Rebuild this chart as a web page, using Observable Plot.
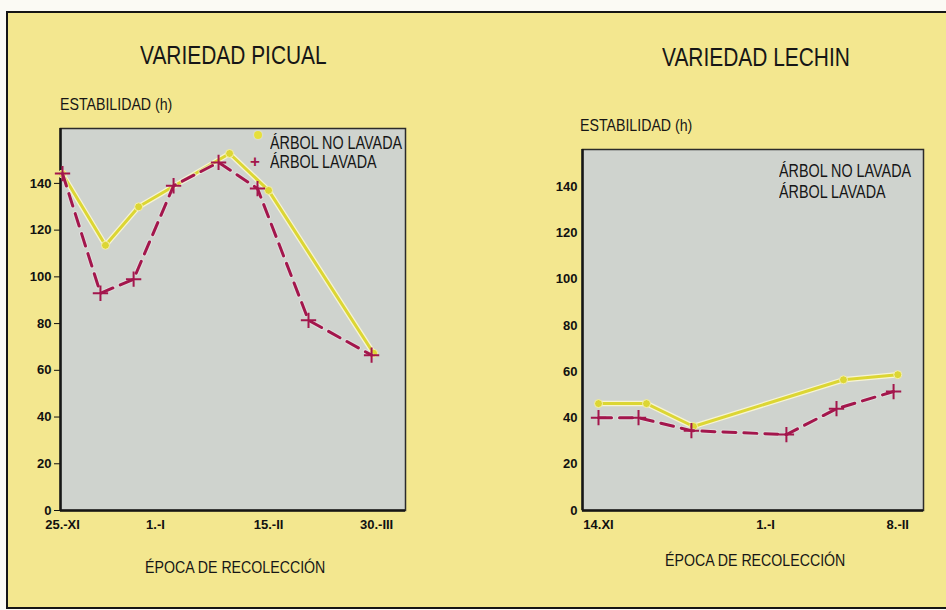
<!DOCTYPE html>
<html><head><meta charset="utf-8">
<script src="https://cdn.jsdelivr.net/npm/d3@7"></script>
<script src="https://cdn.jsdelivr.net/npm/@observablehq/plot@0.6"></script>
<style>
body{margin:0;background:#fbfaf4;}
#wrap{position:relative;width:946px;height:610px;overflow:hidden;background:#fbfaf4;}
#bg{position:absolute;left:6px;top:11px;width:960px;height:594px;background:#f3e78f;border-left:2.5px solid #151515;border-top:2.5px solid #151515;border-bottom:2.5px solid #151515;}
.t{position:absolute;font-family:"Liberation Sans",Arial,sans-serif;color:#161616;white-space:nowrap;line-height:1;transform:scaleX(0.82);transform-origin:0 0;}
.title{font-size:25.5px;}
.ylab{font-size:17.3px;}
.xlab{font-size:17.3px;}
.leg{font-size:17.5px;}
.chart{position:absolute;top:0;}
</style>
</head><body>
<div id="wrap">
  <div id="bg"></div>
  <div id="left" class="chart" style="left:0px"></div>
  <div id="right" class="chart" style="left:470px"></div>
  <div class="t title" style="left:140px;top:43px">VARIEDAD PICUAL</div>
  <div class="t title" style="left:662px;top:45px">VARIEDAD LECHIN</div>
  <div class="t ylab" style="left:60px;top:96px">ESTABILIDAD (h)</div>
  <div class="t ylab" style="left:580px;top:117px">ESTABILIDAD (h)</div>
  <div class="t xlab" style="left:145px;top:559px">ÉPOCA DE RECOLECCIÓN</div>
  <div class="t xlab" style="left:665px;top:552px">ÉPOCA DE RECOLECCIÓN</div>
  <div class="t leg" style="left:270px;top:135px">ÁRBOL NO LAVADA</div>
  <div class="t leg" style="left:270px;top:154px">ÁRBOL LAVADA</div>
  <div class="t leg" style="left:779px;top:163px">ÁRBOL NO LAVADA</div>
  <div class="t leg" style="left:779px;top:184px">ÁRBOL LAVADA</div>
  <div class="t" style="left:254px;top:131px;width:8px;height:8px;border-radius:50%;background:#e6df3c;box-shadow:0 0 2px #fff8c0;transform:none;"></div>
  <div class="t" style="left:250px;top:153px;font-weight:bold;font-size:17px;color:#a3164c;transform:none;">+</div>
</div>
<script>
// ---- VARIEDAD PICUAL ----
const picualTickDia = [0, 37, 82, 125];
const picualTickLabel = ["25.-XI", "1.-I", "15.-II", "30.-III"];
const picualNoLavadaDia = [0, 17.1, 30.3, 66.5, 82, 123.8];
const picualNoLavada = [144, 113.5, 130, 152.8, 137, 67.3];
const picualLavadaDia = [0, 15.1, 28.3, 44.2, 62.1, 77.6, 97.9, 123];
const picualLavada = [144.2, 93, 99, 139, 149, 137.8, 81.4, 66.5];

// ---- VARIEDAD LECHIN ----
const lechinTickDia = [0, 48, 86];
const lechinTickLabel = ["14.XI", "1.-I", "8.-II"];
const lechinNoLavadaDia = [0, 13.8, 27.3, 70.4, 86];
const lechinNoLavada = [46.2, 46.2, 36.3, 56.5, 58.7];
const lechinLavadaDia = [0, 11.5, 26.7, 54, 68.4, 84.8];
const lechinLavada = [40.1, 40.1, 34.5, 32.8, 44, 51.4];

const yTicks = [0, 20, 40, 60, 80, 100, 120, 140];

const YELLOW = "#dcd634", RED = "#a3164c";

function panel(o) {
  const no = o.noDia.map((d, i) => ({dia: d, h: o.noVal[i]}));
  const la = o.laDia.map((d, i) => ({dia: d, h: o.laVal[i]}));
  const lab = new Map(o.tickDia.map((d, i) => [d, o.tickLabel[i]]));
  return Plot.plot({
    width: o.width, height: 610,
    marginLeft: o.mL, marginRight: o.mR, marginTop: o.mT, marginBottom: 100,
    style: {background: "transparent", fontFamily: "'Liberation Sans', Arial, sans-serif", fontWeight: "bold", fontSize: "13px", color: "#111"},
    x: {domain: o.xDomain, ticks: o.tickDia, tickFormat: d => lab.get(d), tickSize: 0, tickPadding: 9, label: null},
    y: {domain: o.yDomain, ticks: yTicks, tickSize: o.yTickSize, tickPadding: o.yTickPad, label: null},
    marks: [
      Plot.frame({fill: "#cfd3ce", stroke: "#2b2b2b", strokeWidth: 1.5}),
      Plot.ruleY([0], {stroke: "#161616", strokeWidth: 2.5}),
      Plot.ruleX([o.xDomain[0]], {stroke: "#161616", strokeWidth: 2.5}),
      Plot.line(no, {x: "dia", y: "h", stroke: "#f7f4d2", strokeWidth: 5.5}),
      Plot.line(no, {x: "dia", y: "h", stroke: YELLOW, strokeWidth: 3}),
      Plot.dot(no, {x: "dia", y: "h", r: 4, fill: YELLOW, stroke: "#f4efb0", strokeWidth: 1}),
      Plot.line(la, {x: "dia", y: "h", stroke: "#e9e6e6", strokeOpacity: 0.6, strokeWidth: 5, strokeDasharray: "13,8"}),
      Plot.line(la, {x: "dia", y: "h", stroke: RED, strokeWidth: 3, strokeDasharray: "13,8"}),
      Plot.dot(la, {x: "dia", y: "h", symbol: "plus", r: 5, stroke: RED, strokeWidth: 2})
    ]
  });
}

document.getElementById("left").append(panel({
  width: 470, mL: 60, mR: 65, mT: 128,
  xDomain: [-0.8, 136.5], yDomain: [0, 163.5],
  tickDia: picualTickDia, tickLabel: picualTickLabel,
  noDia: picualNoLavadaDia, noVal: picualNoLavada,
  laDia: picualLavadaDia, laVal: picualLavada,
  yTickSize: 6, yTickPad: 3
}));

document.getElementById("right").append(panel({
  width: 476, mL: 112, mR: 23, mT: 149,
  xDomain: [-4.6, 93.4], yDomain: [0, 156],
  tickDia: lechinTickDia, tickLabel: lechinTickLabel,
  noDia: lechinNoLavadaDia, noVal: lechinNoLavada,
  laDia: lechinLavadaDia, laVal: lechinLavada,
  yTickSize: 0, yTickPad: 5
}));
</script>
</body></html>
